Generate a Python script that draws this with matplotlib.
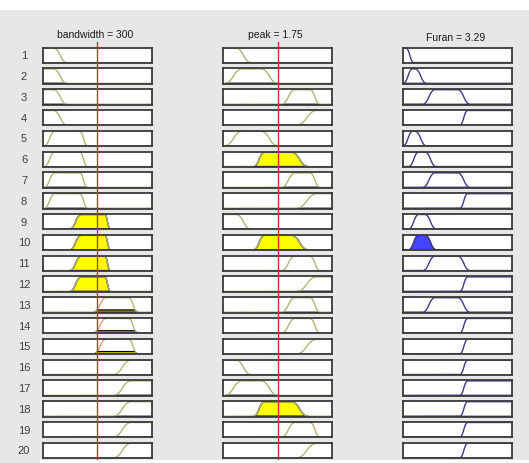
import numpy as np
import matplotlib.pyplot as plt
from matplotlib.patches import Rectangle

# rule viewer: 20 rules, two inputs and one output
bandwidth_value = 300
peak_value = 1.75
furan_value = 3.29

bandwidth_range = [0, 600]
peak_range = [0, 3.5]
furan_range = [0, 20]

# membership functions as smooth trapezoids [a, b, c, d]
bandwidth_mfs = {
    'L': [0, 0, 60, 132],
    'ML': [9, 66, 204, 246],
    'M': [150, 212, 342, 372],
    'MH': [282, 348, 474, 522],
    'H': [390, 486, 600, 600],
}
peak_mfs = {
    'L': [0, 0, 0.42, 0.875],
    'ML': [0.05, 0.6, 1.225, 1.75],
    'M': [0.98, 1.33, 2.2, 2.73],
    'H': [1.89, 2.31, 2.8, 3.115],
    'VH': [2.38, 3.01, 3.5, 3.5],
}
furan_mfs = {
    'VL1': [0, 0, 0.5, 1.9],
    'VL2': [0, 1.7, 2.2, 4.2],
    'L': [1.0, 2.8, 4.0, 6.0],
    'M': [3.6, 5.8, 10.0, 12.2],
    'H': [10.4, 11.8, 20, 20],
}

rule_bandwidth = ['L', 'L', 'L', 'L', 'ML', 'ML', 'ML', 'ML', 'M', 'M',
                  'M', 'M', 'MH', 'MH', 'MH', 'H', 'H', 'H', 'H', 'H']
rule_peak = ['L', 'ML', 'H', 'VH', 'ML', 'M', 'H', 'VH', 'L', 'M',
             'H', 'VH', 'H', 'H', 'VH', 'L', 'ML', 'M', 'H', 'VH']
rule_furan = ['VL1', 'VL2', 'M', 'H', 'VL2', 'L', 'M', 'H', 'L', 'L',
              'M', 'H', 'M', 'H', 'H', 'H', 'H', 'H', 'H', 'H']


def smf(x, a, b):
    if b <= a:
        return (x >= a).astype(float)
    t = np.clip((x - a) / (b - a), 0, 1)
    return np.where(t < 0.5, 2 * t ** 2, 1 - 2 * (1 - t) ** 2)


def zmf(x, c, d):
    if d <= c:
        return (x <= c).astype(float)
    return 1 - smf(x, c, d)


def mf(x, p):
    a, b, c, d = p
    return np.minimum(smf(x, a, b), zmf(x, c, d))


W, H = 529, 464
fig = plt.figure(figsize=(W / 100, H / 100), dpi=100)
fig.patch.set_facecolor('#e7e7e7')
fig.patches.append(Rectangle((0, 1 - 11 / H), 1, 11 / H, transform=fig.transFigure,
                             facecolor='white', edgecolor='none', zorder=0))
fig.patches.append(Rectangle((40 / W, 0), 1, 3 / H, transform=fig.transFigure,
                             facecolor='white', edgecolor='none', zorder=0))

font = ['Liberation Sans Narrow', 'Liberation Sans']
col_x = [42.7, 223.3, 403.3]
col_w = [109, 108.4, 109]
row_y0, row_step, row_h = 48.5, 20.8, 15.5

olive = '#b4b478'
navy = '#3c3c8c'


def cell_axes(col, row):
    y0 = row_y0 + row * row_step
    ax = fig.add_axes([col_x[col] / W, 1 - (y0 + row_h) / H, col_w[col] / W, row_h / H])
    ax.set_xticks([])
    ax.set_yticks([])
    ax.set_ylim(-0.03, 1.04)
    for s in ax.spines.values():
        s.set_color('#3a3a3a')
        s.set_linewidth(1.3)
    return ax


xb = np.linspace(*bandwidth_range, 600)
xp = np.linspace(*peak_range, 600)
xf = np.linspace(*furan_range, 600)

for i in range(20):
    mu1 = mf(np.array([bandwidth_value]), bandwidth_mfs[rule_bandwidth[i]])[0]
    mu2 = mf(np.array([peak_value]), peak_mfs[rule_peak[i]])[0]
    w = min(mu1, mu2)

    for col, (x, params, mu) in enumerate([(xb, bandwidth_mfs[rule_bandwidth[i]], mu1),
                                           (xp, peak_mfs[rule_peak[i]], mu2)]):
        ax = cell_axes(col, i)
        ax.set_xlim(x[0], x[-1])
        y = mf(x, params)
        on = y > 1e-3
        ys = np.minimum(y[on], mu)
        ax.fill(np.r_[x[on], x[on][::-1]], np.r_[ys, np.zeros(on.sum())],
                facecolor='yellow', edgecolor='black', lw=1)
        ax.plot(x, y, color=olive, lw=1)

    ax = cell_axes(2, i)
    ax.set_xlim(*furan_range)
    y = mf(xf, furan_mfs[rule_furan[i]])
    on = y > 1e-3
    ys = np.minimum(y[on], w)
    ax.fill(np.r_[xf[on], xf[on][::-1]], np.r_[ys, np.zeros(on.sum())],
            facecolor='#4646ff', edgecolor=navy, lw=1)
    ax.plot(xf, y, color=navy, lw=1)

    fig.text(24 / W, 1 - (row_y0 + i * row_step + row_h / 2) / H, str(i + 1),
             ha='center', va='center', fontsize=8, color='#404040', family=font)

# aggregated output, mostly below the bottom edge
agg = fig.add_axes([col_x[2] / W, 1 - (461 + 30) / H, col_w[2] / W, 30 / H])
agg.set_xlim(*furan_range)
agg.set_xticks([])
agg.set_yticks([])
for s in agg.spines.values():
    s.set_color('#3c3c9c')
agg.axvline(furan_value, color='#e07070', lw=1)

# input value lines across all rules
for col, (rng, val) in enumerate([(bandwidth_range, bandwidth_value), (peak_range, peak_value)]):
    ov = fig.add_axes([col_x[col] / W, 0, col_w[col] / W, 1 - 43 / H])
    ov.set_xlim(*rng)
    ov.axis('off')
    ov.axvline(val, color='#d03030', lw=1)

titles = ['bandwidth = %g' % bandwidth_value, 'peak = %g' % peak_value,
          'Furan = %g' % furan_value]
title_y = [35, 35, 38]
for col in range(3):
    fig.text((col_x[col] + col_w[col] / 2 - 2) / W, 1 - title_y[col] / H, titles[col],
             ha='center', va='center', fontsize=7.5, color='#1a1a1a', family=font)

fig.savefig('out.png', dpi=100, facecolor=fig.get_facecolor())
